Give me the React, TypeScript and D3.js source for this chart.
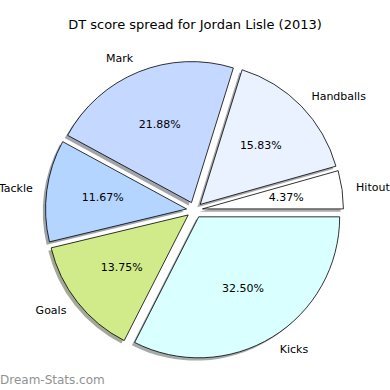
import React from 'react';
import * as d3 from 'd3';

// DT score breakdown, counterclockwise from 3 o'clock
const categories = ['Hitout', 'Handballs', 'Mark', 'Tackle', 'Goals', 'Kicks'];
const shares = [4.37, 15.83, 21.88, 11.67, 13.75, 32.5];
const sliceColors = ['#ffffff', '#eaf1ff', '#c5d8ff', '#b4d5ff', '#d1eb8b', '#d9ffff'];

const W = 390;
const H = 390;
const cx = 194.5;
const cy = 210;
const radius = 141;
const explode = 8;
const shadowDx = -2.8;
const shadowDy = 2.8;

const font = 'DejaVu Sans, Verdana, sans-serif';

export default function App() {
  const rows = categories.map((name, i) => ({ name, value: shares[i], color: sliceColors[i] }));

  // matplotlib style: start at east, go counterclockwise
  const pie = d3.pie<any>()
    .value((d) => d.value)
    .sort(null)
    .startAngle(Math.PI / 2)
    .endAngle(Math.PI / 2 - 2 * Math.PI);

  const arcs = pie(rows);
  const arc = d3.arc<any>().innerRadius(0).outerRadius(radius);

  const slices = arcs.map((a) => {
    const mid = (a.startAngle + a.endAngle) / 2;
    const ux = Math.sin(mid);
    const uy = -Math.cos(mid);
    return {
      a,
      ux,
      uy,
      ox: cx + explode * ux,
      oy: cy + explode * uy,
      path: arc({ ...a, startAngle: Math.min(a.startAngle, a.endAngle), endAngle: Math.max(a.startAngle, a.endAngle) }) as string,
    };
  });

  return (
    <svg width={W} height={H} style={{ display: 'block', position: 'absolute', left: 0, top: 0 }}>
      <rect width={W} height={H} fill="#ffffff" />
      <text x={195} y={29} textAnchor="middle" fontFamily={font} fontSize={13} fill="#000">
        DT score spread for Jordan Lisle (2013)
      </text>

      {/* shadows go under every wedge */}
      {slices.map((s, i) => (
        <path
          key={'sh' + i}
          d={s.path}
          transform={`translate(${s.ox + shadowDx},${s.oy + shadowDy})`}
          fill={d3.rgb(s.a.data.color).darker(3).toString()}
          fillOpacity={0.5}
        />
      ))}

      {slices.map((s, i) => (
        <path
          key={'w' + i}
          d={s.path}
          transform={`translate(${s.ox},${s.oy})`}
          fill={s.a.data.color}
          stroke="#000"
          strokeWidth={0.8}
        />
      ))}

      {slices.map((s, i) => (
        <text
          key={'p' + i}
          x={s.ox + 0.6 * radius * s.ux}
          y={s.oy + 0.6 * radius * s.uy}
          textAnchor="middle"
          dominantBaseline="central"
          fontFamily={font}
          fontSize={11}
          fill="#000"
        >
          {s.a.data.value.toFixed(2) + '%'}
        </text>
      ))}

      {slices.map((s, i) => (
        <text
          key={'l' + i}
          x={s.ox + 1.1 * radius * s.ux}
          y={s.oy + 1.1 * radius * s.uy}
          textAnchor={s.ux > 0 ? 'start' : 'end'}
          dominantBaseline="central"
          fontFamily={font}
          fontSize={11}
          fill="#000"
        >
          {s.a.data.name}
        </text>
      ))}

      <text x={0} y={384} fontFamily={font} fontSize={12} fill="#929292">
        Dream-Stats.com
      </text>
    </svg>
  );
}
